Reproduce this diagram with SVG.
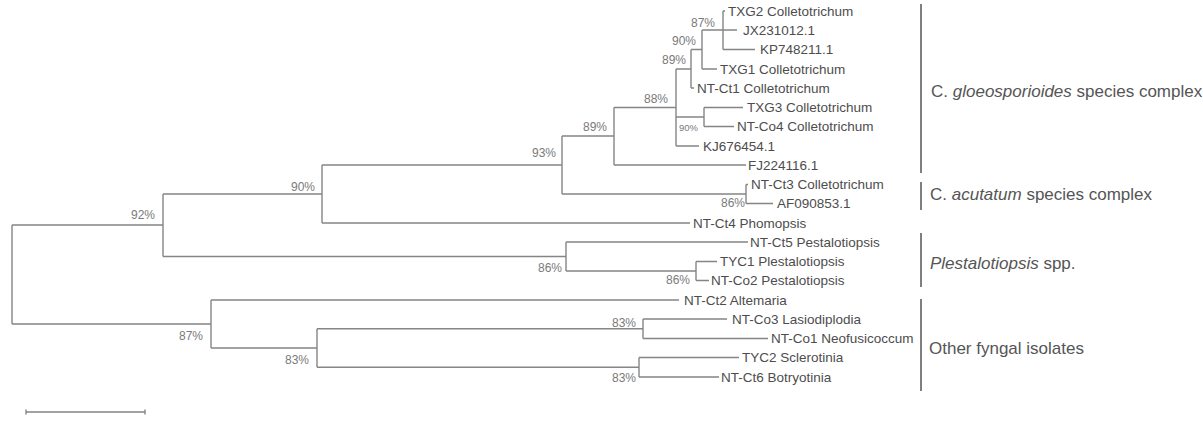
<svg xmlns="http://www.w3.org/2000/svg" width="1203" height="421" viewBox="0 0 1203 421">
<style>
.e{fill:none;stroke:#858585;stroke-width:1.4}
.br{fill:none;stroke:#555;stroke-width:1.5}
.lf{font-family:"Liberation Sans",Arial,sans-serif;font-size:13.5px;fill:#4d4d4d}
.bs{font-family:"Liberation Sans",Arial,sans-serif;font-size:12px;fill:#7a7a7a;text-anchor:end}
.bss{font-family:"Liberation Sans",Arial,sans-serif;font-size:9.5px;fill:#7a7a7a;text-anchor:end}
.gp{font-family:"Liberation Sans",Arial,sans-serif;font-size:17px;fill:#555}
</style>
<rect width="1203" height="421" fill="#fff"/>
<g id="connectors">
<path class="e" d="M723 11V49.5M723 11H725M702 30H737M723 49.5H755"/>
<path class="e" d="M702 30V69M702 69H717"/>
<path class="e" d="M691 49.5V88M691 49.5H702M691 88H694"/>
<path class="e" d="M676 69V146M676 69H691M676 117H704M676 146H699"/>
<path class="e" d="M704 107.5V126.5M704 107.5H743M704 126.5H734"/>
<path class="e" d="M614 107.5V165M614 107.5H676M614 165H746"/>
<path class="e" d="M746 184.5V203.5M746 184.5H748M746 203.5H773"/>
<path class="e" d="M562 136V194M562 136H614M562 194H746"/>
<path class="e" d="M322 165V223M322 165H562M322 223H690"/>
<path class="e" d="M696 261.5V280.5M696 261.5H717M696 280.5H709"/>
<path class="e" d="M566 242V271M566 242H748M566 271H696"/>
<path class="e" d="M163 194V256.5M163 194H322M163 256.5H566"/>
<path class="e" d="M643 319V338.5M643 319H727M643 338.5H768"/>
<path class="e" d="M639 357.5V377M639 357.5H739M639 377H719"/>
<path class="e" d="M317 328.75V367.25M317 328.75H643M317 367.25H639"/>
<path class="e" d="M211 300V348M211 300H679M211 348H317"/>
<path class="e" d="M12 225V324M12 225H163M12 324H211"/>
</g>
<g id="n-87a"><text class="bs" x="715" y="27">87%</text></g>
<g id="n-90a"><text class="bs" x="696" y="45">90%</text></g>
<g id="n-89a"><text class="bs" x="686" y="64">89%</text></g>
<g id="n-88"><text class="bs" x="668" y="103">88%</text></g>
<g id="n-90b"><text class="bss" x="698" y="130.5">90%</text></g>
<g id="n-89b"><text class="bs" x="607" y="131">89%</text></g>
<g id="n-93"><text class="bs" x="556" y="157">93%</text></g>
<g id="n-86a"><text class="bs" x="745" y="207">86%</text></g>
<g id="n-90c"><text class="bs" x="315" y="191">90%</text></g>
<g id="n-92"><text class="bs" x="155" y="219">92%</text></g>
<g id="n-86b"><text class="bs" x="562" y="272">86%</text></g>
<g id="n-86c"><text class="bs" x="690" y="284">86%</text></g>
<g id="n-87b"><text class="bs" x="203" y="340">87%</text></g>
<g id="n-83a"><text class="bs" x="309" y="364">83%</text></g>
<g id="n-83b"><text class="bs" x="636" y="327">83%</text></g>
<g id="n-83c"><text class="bs" x="636" y="382">83%</text></g>
<g id="leaf-TXG2"><text class="lf" x="728" y="15.8">TXG2 Colletotrichum</text></g>
<g id="leaf-JX231012"><text class="lf" x="743" y="34.8">JX231012.1</text></g>
<g id="leaf-KP748211"><text class="lf" x="760" y="54.3">KP748211.1</text></g>
<g id="leaf-TXG1"><text class="lf" x="720" y="73.8">TXG1 Colletotrichum</text></g>
<g id="leaf-NT-Ct1"><text class="lf" x="697" y="92.8">NT-Ct1 Colletotrichum</text></g>
<g id="leaf-TXG3"><text class="lf" x="747" y="112.3">TXG3 Colletotrichum</text></g>
<g id="leaf-NT-Co4"><text class="lf" x="737" y="131.3">NT-Co4 Colletotrichum</text></g>
<g id="leaf-KJ676454"><text class="lf" x="703" y="150.8">KJ676454.1</text></g>
<g id="leaf-FJ224116"><text class="lf" x="748" y="169.8">FJ224116.1</text></g>
<g id="leaf-NT-Ct3"><text class="lf" x="751" y="189.3">NT-Ct3 Colletotrichum</text></g>
<g id="leaf-AF090853"><text class="lf" x="777" y="208.3">AF090853.1</text></g>
<g id="leaf-NT-Ct4"><text class="lf" x="693" y="227.8">NT-Ct4 Phomopsis</text></g>
<g id="leaf-NT-Ct5"><text class="lf" x="750" y="246.8">NT-Ct5 Pestalotiopsis</text></g>
<g id="leaf-TYC1"><text class="lf" x="720" y="266.3">TYC1 Plestalotiopsis</text></g>
<g id="leaf-NT-Co2"><text class="lf" x="711" y="285.3">NT-Co2 Pestalotiopsis</text></g>
<g id="leaf-NT-Ct2"><text class="lf" x="684" y="304.8">NT-Ct2 Altemaria</text></g>
<g id="leaf-NT-Co3"><text class="lf" x="732" y="323.8">NT-Co3 Lasiodiplodia</text></g>
<g id="leaf-NT-Co1"><text class="lf" x="771" y="343.3">NT-Co1 Neofusicoccum</text></g>
<g id="leaf-TYC2"><text class="lf" x="742" y="362.3">TYC2 Sclerotinia</text></g>
<g id="leaf-NT-Ct6"><text class="lf" x="721" y="381.8">NT-Ct6 Botryotinia</text></g>
<g id="group-gloeosporioides"><path class="br" d="M921 4V173"/><text class="gp" x="931" y="97">C. <tspan font-style="italic">gloeosporioides</tspan> species complex</text></g>
<g id="group-acutatum"><path class="br" d="M921 182V210"/><text class="gp" x="930" y="200">C. <tspan font-style="italic">acutatum</tspan> species complex</text></g>
<g id="group-pestalotiopsis"><path class="br" d="M921 233V287"/><text class="gp" x="930" y="269"><tspan font-style="italic">Plestalotiopsis</tspan> spp.</text></g>
<g id="group-other"><path class="br" d="M921 299V391"/><text class="gp" x="929" y="354">Other fyngal isolates</text></g>
<g id="scale-bar"><path class="e" d="M26 412H145M26 409.5V414.5M145 409.5V414.5"/></g>
</svg>
